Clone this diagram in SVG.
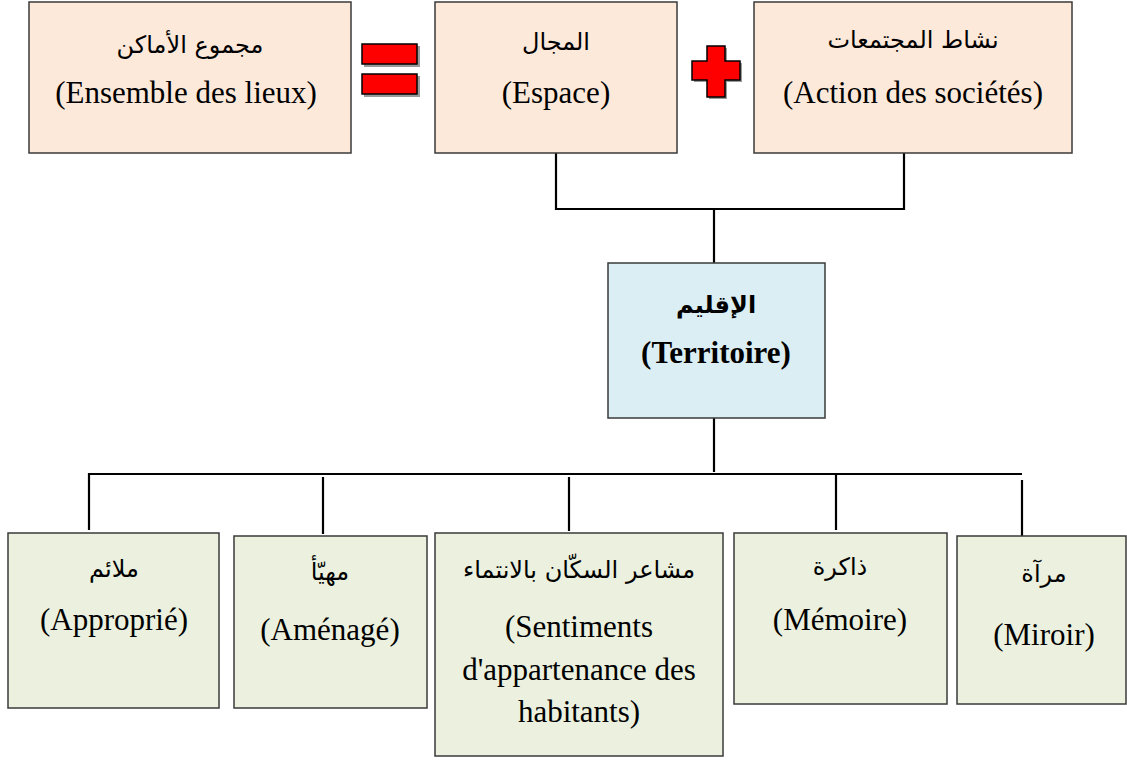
<svg xmlns="http://www.w3.org/2000/svg" xmlns:xlink="http://www.w3.org/1999/xlink" width="1127" height="760" viewBox="0 0 1127 760">
<style>
  .box { stroke: #3a3a3a; stroke-width: 1.5; }
  .top { fill: #FDE9D9; }
  .mid { fill: #DAEEF3; }
  .bot { fill: #EBF1DE; }
  text { font-family: "Liberation Serif", "DejaVu Sans", serif; font-size: 31px; fill: #000; text-anchor: middle; }
  .ar { font-family: "DejaVu Sans", "Noto Sans", sans-serif; font-size: 24px; }
  .b { font-weight: bold; }
  .conn { stroke: #000; stroke-width: 2.2; fill: none; }
  .sym { fill: #FF0000; stroke: #000; stroke-width: 1.5; }
  .shadow { fill: #9a9a9a; }
</style>
<defs>
  <path id="plus" d="M707,46 H725 V61 H740 V80 H725 V97 H707 V80 H692 V61 H707 Z"/>
</defs>
<rect width="1127" height="760" fill="#fff"/>

<g id="connectors">
  <path class="conn" d="M556,153 V209 H904 V153"/>
  <path class="conn" d="M714,209 V263"/>
  <path class="conn" d="M714,418 V472"/>
  <path class="conn" d="M89,530 V474 H1022"/>
  <path class="conn" d="M323,477 V534"/>
  <path class="conn" d="M569,477 V531"/>
  <path class="conn" d="M836,474 V530"/>
  <path class="conn" d="M1022,480 V536"/>
</g>

<g id="equals">
  <rect class="shadow" x="364" y="46" width="56" height="21"/>
  <rect class="shadow" x="364" y="76" width="56" height="21"/>
  <rect class="sym" x="362" y="44" width="55" height="20"/>
  <rect class="sym" x="362" y="74" width="55" height="20"/>
</g>
<g id="plus-sign">
  <use xlink:href="#plus" class="shadow" transform="translate(2,2)"/>
  <use xlink:href="#plus" class="sym"/>
</g>

<g id="node-lieux">
  <rect class="box top" x="29" y="2" width="322" height="151"/>
  <text class="ar" x="190" y="53">مجموع الأماكن</text>
  <text x="186" y="103">(Ensemble des lieux)</text>
</g>
<g id="node-espace">
  <rect class="box top" x="435" y="2" width="242" height="151"/>
  <text class="ar" x="556" y="50">المجال</text>
  <text x="556" y="103">(Espace)</text>
</g>
<g id="node-action">
  <rect class="box top" x="754" y="2" width="318" height="151"/>
  <text class="ar" x="913" y="48">نشاط المجتمعات</text>
  <text x="913" y="103">(Action des sociétés)</text>
</g>

<g id="node-territoire">
  <rect class="box mid" x="608" y="263" width="217" height="155"/>
  <text class="ar b" x="716" y="313">الإقليم</text>
  <text class="b" x="716" y="363">(Territoire)</text>
</g>

<g id="node-approprie">
  <rect class="box bot" x="8" y="533" width="211" height="175"/>
  <text class="ar" x="114" y="577">ملائم</text>
  <text x="114" y="630">(Approprié)</text>
</g>
<g id="node-amenage">
  <rect class="box bot" x="234" y="536" width="193" height="172"/>
  <text class="ar" x="330" y="580">مهيّأ</text>
  <text x="330" y="640">(Aménagé)</text>
</g>
<g id="node-sentiments">
  <rect class="box bot" x="435" y="533" width="288" height="223"/>
  <text class="ar" x="579" y="578">مشاعر السكّان بالانتماء</text>
  <text x="579" y="637">(Sentiments</text>
  <text x="579" y="680">d'appartenance des</text>
  <text x="579" y="722">habitants)</text>
</g>
<g id="node-memoire">
  <rect class="box bot" x="734" y="533" width="213" height="171"/>
  <text class="ar" x="840" y="575">ذاكرة</text>
  <text x="840" y="630">(Mémoire)</text>
</g>
<g id="node-miroir">
  <rect class="box bot" x="957" y="536" width="169" height="168"/>
  <text class="ar" x="1044" y="582">مرآة</text>
  <text x="1044" y="645">(Miroir)</text>
</g>
</svg>
